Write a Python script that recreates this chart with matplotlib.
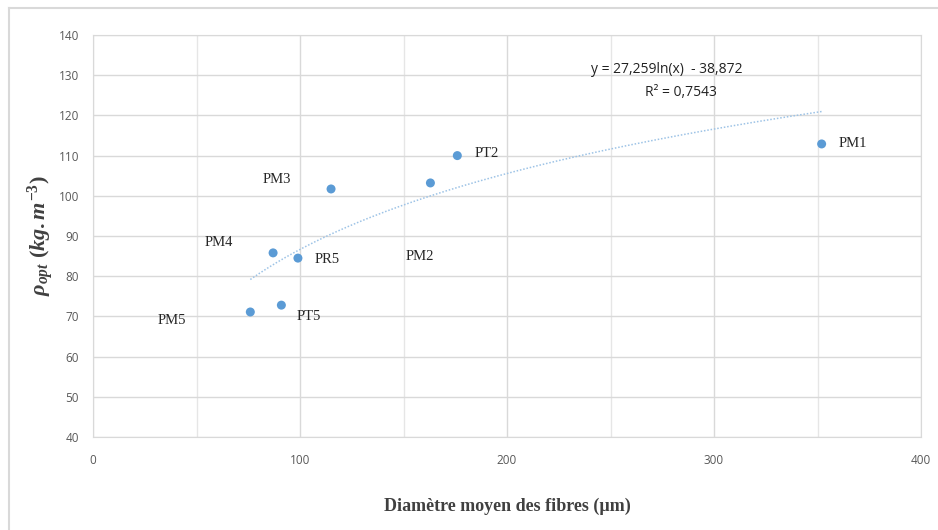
import numpy as np
import matplotlib.pyplot as plt
from matplotlib.lines import Line2D

plt.rcParams["mathtext.fontset"] = "custom"
plt.rcParams["mathtext.rm"] = "Liberation Serif:bold"
plt.rcParams["mathtext.it"] = "Liberation Serif:italic:bold"
plt.rcParams["mathtext.bf"] = "Liberation Serif:bold"
plt.rcParams["mathtext.bfit"] = "Liberation Serif:italic:bold"

names = ["PM1", "PT2", "PM2", "PM3", "PM4", "PR5", "PT5", "PM5"]
diam = [352, 176, 163, 115, 87, 99, 91, 76]
rho = [112.9, 110.0, 103.2, 101.7, 85.8, 84.5, 72.8, 71.1]
label_pos = [(360, 113), (184.5, 110.5), (151, 85), (82, 104), (54, 88.3), (107, 84.2), (98.5, 70), (31, 69)]
coef_a, coef_b = 27.259, -38.872
eq_text = "y = 27,259ln(x)  - 38,872"
r2_text = "R² = 0,7543"
xticks = [0, 100, 200, 300, 400]
yticks = list(range(40, 141, 10))

W, H = 938, 530
fig = plt.figure(figsize=(W / 100, H / 100), dpi=100)
ax = fig.add_axes([93 / W, 1 - 437 / H, (921 - 93) / W, (437 - 35) / H])

# outer frame
fig.add_artist(Line2D([9 / W, 9 / W], [0, 1 - 8 / H], color="#d9d9d9", lw=1.5, transform=fig.transFigure))
fig.add_artist(Line2D([9 / W, 1], [1 - 8 / H, 1 - 8 / H], color="#d9d9d9", lw=1.5, transform=fig.transFigure))

ax.set_xlim(0, 400)
ax.set_ylim(40, 140)
ax.set_xticks(xticks)
ax.set_xticks(np.arange(0, 401, 50), minor=True)
ax.set_yticks(yticks)
ax.grid(True, which="major", color="#d9d9d9", lw=1)
ax.grid(True, which="minor", color="#e6e6e6", lw=1)
ax.set_axisbelow(True)
for s in ax.spines.values():
    s.set_color("#d9d9d9")
ax.tick_params(which="both", length=0, colors="#595959", labelsize=8.5)
ax.tick_params(axis="x", pad=12)
ax.tick_params(axis="y", pad=10)
for t in ax.get_xticklabels() + ax.get_yticklabels():
    t.set_fontfamily("Open Sans")

xs = np.linspace(min(diam), max(diam), 200)
ax.plot(xs, coef_a * np.log(xs) + coef_b, color="#9dc3e6", lw=1.1, ls=(0, (1, 1.2)), zorder=2)
ax.scatter(diam, rho, s=42, color="#5b9bd5", zorder=3, edgecolors="none")

for n, (lx, ly) in zip(names, label_pos):
    ax.text(lx, ly, n, fontsize=10.5, family="Liberation Serif", color="#262626", va="center", ha="left")

ax.text(277, 131.3, eq_text, fontsize=10, family="Open Sans", color="#222222", ha="center", va="center")
ax.text(284, 125.8, r2_text, fontsize=10, family="Open Sans", color="#222222", ha="center", va="center")

ax.set_xlabel("Diamètre moyen des fibres (µm)", fontsize=13, family="Liberation Serif",
              fontweight="bold", color="#404040", labelpad=22)
ax.set_ylabel(r"$\rho_{opt}\ (kg.m^{-3})$", fontsize=16, color="#404040", labelpad=2)

fig.savefig("out.png", dpi=100)
